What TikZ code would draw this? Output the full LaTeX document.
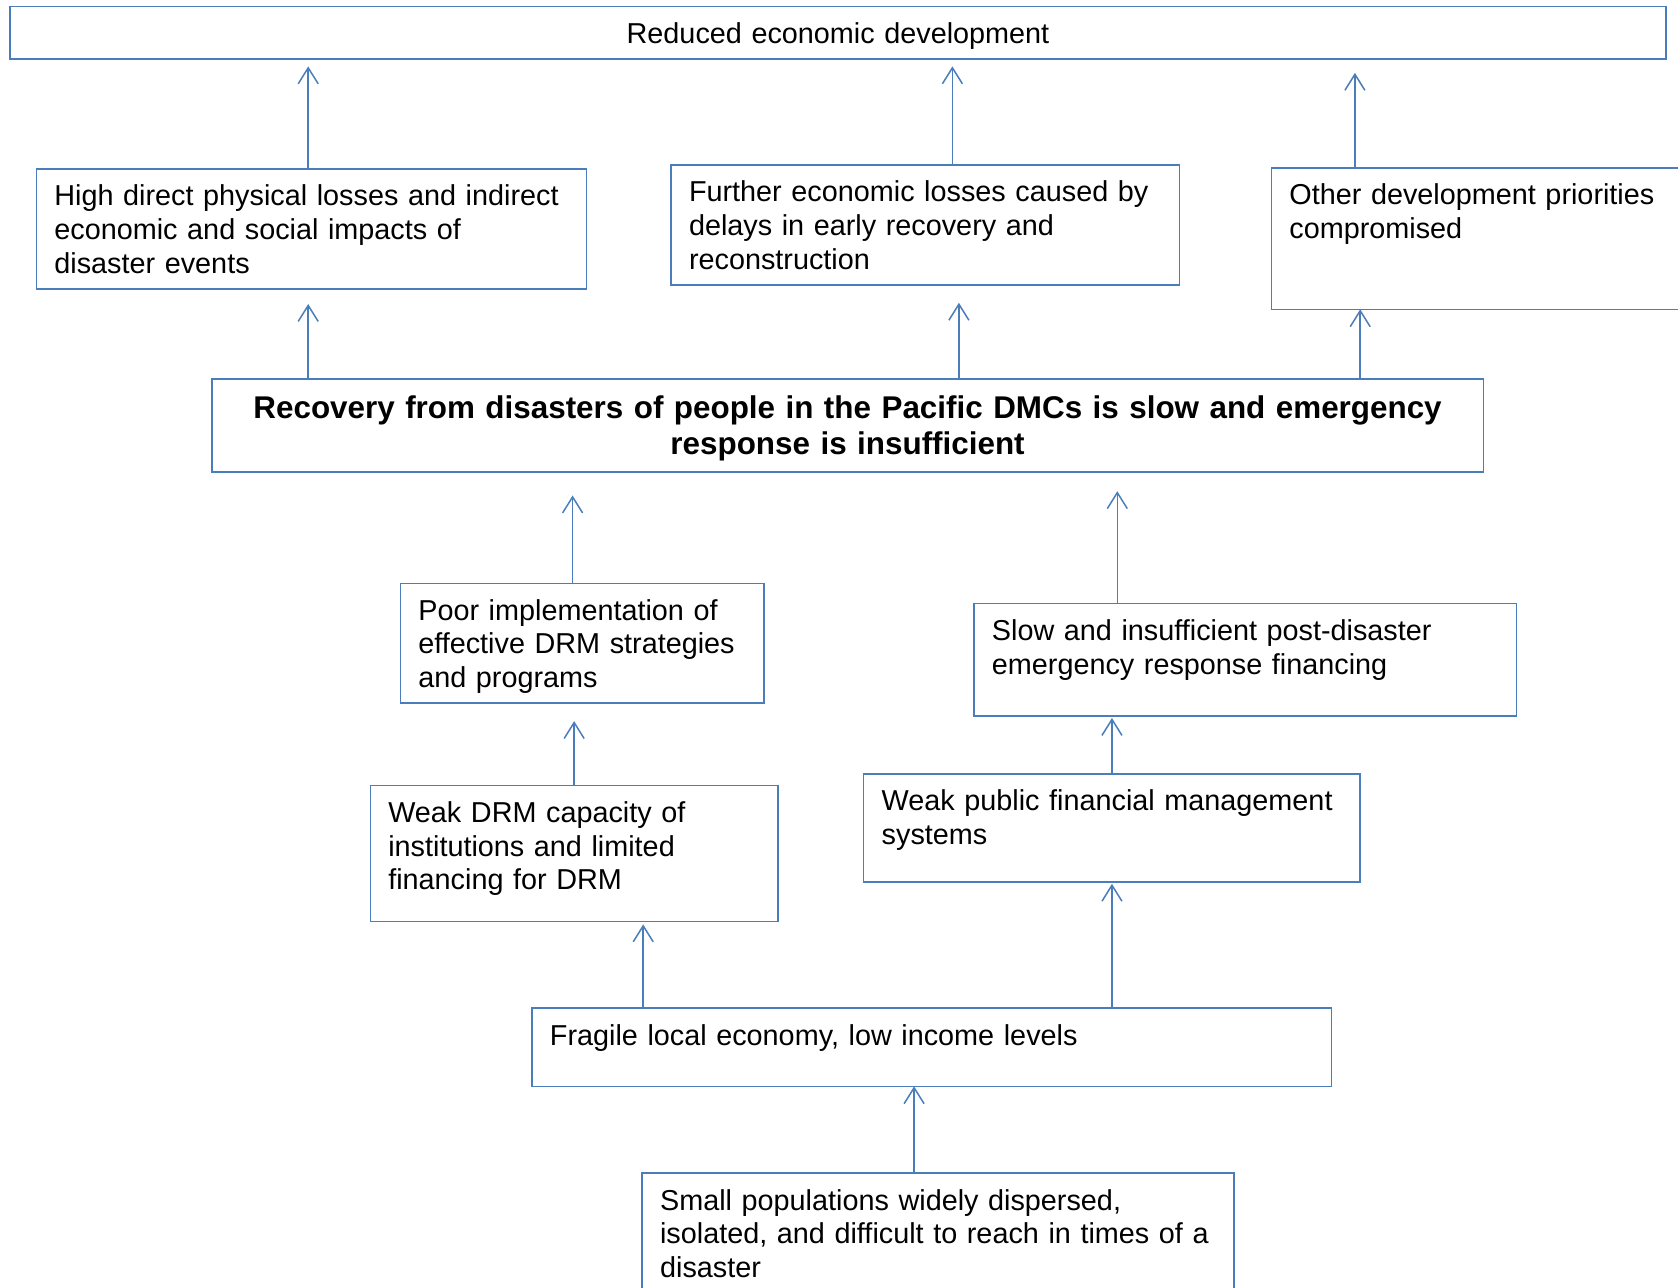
\documentclass[tikz,border=0pt]{standalone}
\usepackage{fontspec}
\setmainfont{Liberation Sans}
\usepackage{xcolor}
\usetikzlibrary{arrows.meta}
\definecolor{boxblue}{RGB}{74,126,187}

\begin{document}
\begin{tikzpicture}[
  x=0.5pt, y=-0.5pt,
  box/.style={draw=boxblue, line width=0.75pt, anchor=north west, align=left, outer sep=0pt,
    inner xsep=9pt, inner ysep=0pt, text height=18.5pt, font=\fontsize{14.4pt}{16.85pt}\selectfont},
  mainbox/.style={box, align=center, text height=19.8pt, font=\fontsize{15.7pt}{18.2pt}\selectfont\bfseries},
  arrow/.style={-{Straight Barb[length=8pt, width=10pt]}, draw=boxblue, line width=0.75pt}
]
\useasboundingbox (0,0) rectangle (1678,1288);

\node[box, align=center, text width=810pt, text depth=7.75pt] (reduced) at (10,6.4) {Reduced economic development};

\node[box, text width=257pt, text depth=41.5pt] (losses) at (36.4,169)
  {High direct physical losses and indirect\\economic and social impacts of\\disaster events};
\node[box, text width=236.2pt, text depth=41.5pt] (delays) at (671,164.8)
  {Further economic losses caused by\\delays in early recovery and\\reconstruction};
\node[box, text width=201.3pt, text depth=52.15pt] (priorities) at (1271.4,168)
  {Other development priorities\\compromised};

\node[mainbox, text width=617.7pt, text depth=26.8pt] (recovery) at (211.9,378.8)
  {Recovery from disasters of people in the Pacific DMCs is slow and emergency\\response is insufficient};

\node[box, text width=163.9pt, text depth=41.4pt] (drmimpl) at (400.3,583.3)
  {Poor implementation of\\effective DRM strategies\\and programs};
\node[box, text width=253.3pt, text depth=37.7pt] (erfin) at (973.9,603.6)
  {Slow and insufficient post-disaster\\emergency response financing};

\node[box, text width=185.85pt, text depth=49.45pt] (drmcap) at (370.3,785.5)
  {Weak DRM capacity of\\institutions and limited\\financing for DRM};
\node[box, text width=230.25pt, text depth=35.5pt] (pfm) at (863.7,773.8)
  {Weak public financial management\\systems};

\node[box, text width=381.7pt, text depth=20.6pt] (economy) at (531.9,1008.1)
  {Fragile local economy, low income levels};
\node[box, text width=278pt, text depth=50pt] (population) at (642.1,1173)
  {Small populations widely dispersed,\\isolated, and difficult to reach in times of a\\disaster};

% upper level
\draw[arrow, shorten >=3.75pt] ([xshift=-1.6pt]losses.north) -- ([xshift=-1.6pt]losses.north |- reduced.south);
\draw[arrow, shorten >=3.75pt] ([xshift=13.6pt]delays.north) -- ([xshift=13.6pt]delays.north |- reduced.south);
\draw[arrow, shorten >=7pt] ([xshift=41.75pt]priorities.north west) -- ([xshift=41.75pt]priorities.north west |- reduced.south);

\draw[arrow, shorten >=7.5pt] ([xshift=-1.6pt]recovery.north -| losses.south) -- ([xshift=-1.6pt]losses.south);
\draw[arrow, shorten >=9pt] ([xshift=16.85pt]recovery.north -| delays.south) -- ([xshift=16.85pt]delays.south);
\draw[arrow] ([xshift=44.4pt]recovery.north -| priorities.south west) -- ([xshift=44.4pt]priorities.south west);

% lower level
\draw[arrow, shorten >=11.75pt] ([xshift=-4.8pt]drmimpl.north) -- ([xshift=-4.8pt]drmimpl.north |- recovery.south);
\draw[arrow, shorten >=9.6pt] ([xshift=71.7pt]erfin.north west) -- ([xshift=71.7pt]erfin.north west |- recovery.south);
\draw[arrow, shorten >=9pt] (drmcap.north) -- (drmcap.north |- drmimpl.south);
\draw[arrow, shorten >=1pt] (pfm.north) -- (pfm.north |- erfin.south);
\draw[arrow, shorten >=1.5pt] ([xshift=55.65pt]economy.north west) -- ([xshift=55.65pt]economy.north west |- drmcap.south);
\draw[arrow, shorten >=1pt] (economy.north -| pfm.south) -- (pfm.south);
\draw[arrow] ([xshift=136pt]population.north west) -- ([xshift=136pt]population.north west |- economy.south);
\end{tikzpicture}
\end{document}
